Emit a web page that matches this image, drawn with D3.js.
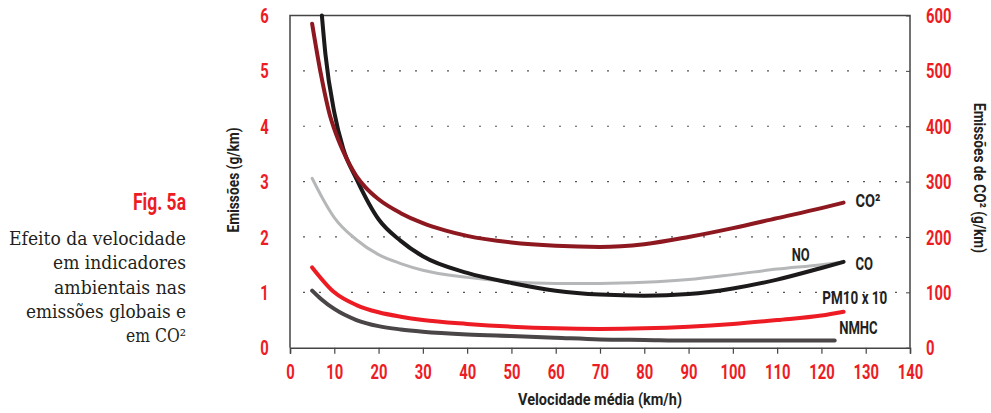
<!DOCTYPE html>
<html><head><meta charset="utf-8">
<script src="https://cdn.jsdelivr.net/npm/d3@7"></script>
<style>
body{margin:0;background:#fff;}
.cond{font-family:Roboto,"Liberation Sans",sans-serif;font-weight:700;}
</style></head><body>
<svg id="c" width="991" height="413"></svg>
<script>
const xTicks = [0,10,20,30,40,50,60,70,80,90,100,110,120,130,140];
const yTicksLeft = [0,1,2,3,4,5,6];
const yTicksRight = [0,100,200,300,400,500,600];

const co2Speed = [5,7,9,10,12,15,17,20,25,30,35,40,50,60,70,80,90,100,110,120,125];
const co2Values = [585,493,420,395,355,310,290,268,243,225,212,202,190,184,182,187,200,216,234,252,262];

const coSpeed = [7.2,8,10,12,15,20,25,30,40,50,60,70,80,90,100,110,120,125];
const coValues = [6.0,5.3,4.25,3.6,3.05,2.32,1.93,1.65,1.35,1.17,1.03,0.96,0.94,0.97,1.07,1.23,1.44,1.55];

const noSpeed = [5,7,10,15,20,25,30,40,50,60,70,80,90,100,110,120,125];
const noValues = [3.06,2.75,2.35,1.95,1.68,1.52,1.40,1.27,1.19,1.16,1.16,1.18,1.23,1.32,1.42,1.50,1.55];

const pmSpeed = [5,10,15,20,25,30,40,50,60,70,80,90,100,110,120,125];
const pmValues = [1.45,1.0,0.77,0.64,0.56,0.50,0.43,0.38,0.35,0.34,0.35,0.38,0.43,0.50,0.58,0.65];

const nmhcSpeed = [5,7,10,15,20,25,30,40,50,60,70,80,90,100,110,123];
const nmhcValues = [1.03,0.88,0.70,0.50,0.39,0.33,0.29,0.24,0.21,0.18,0.15,0.14,0.13,0.13,0.13,0.13];

const seriesLabels = ["CO²","NO","CO","PM10 x 10","NMHC"];

const svg = d3.select("#c");
const L=290, R=910, T=15.5, B=347.7;
const x = d3.scaleLinear().domain([0,140]).range([L,R]);
const y = d3.scaleLinear().domain([0,6]).range([B,T]);
const y2 = d3.scaleLinear().domain([0,600]).range([B,T]);
const red = "#ed1c24";
const ink = "#231f20";
const SX = 0.76;
const FS = "19.5px";

// gridlines
svg.append("g").selectAll("line").data(yTicksLeft.filter(d=>d>0&&d<6)).join("line")
  .attr("x1",L+13).attr("x2",R-6).attr("y1",d=>y(d)).attr("y2",d=>y(d))
  .attr("stroke","#555").attr("stroke-width",1.2).attr("stroke-dasharray","2,14");

// frame
svg.append("path").attr("d",`M${L},${B}V${T}H${R}V${B}`).attr("fill","none").attr("stroke","#444").attr("stroke-width",1.5);

// x axis
const gx = svg.append("g").attr("transform",`translate(0,${B})`)
  .call(d3.axisBottom(x).tickValues(xTicks).tickSize(6).tickFormat(d3.format("d")));
gx.select(".domain").attr("stroke","#444").attr("stroke-width",1.5);
gx.selectAll(".tick line").attr("stroke","#444").attr("stroke-width",1.2);
gx.selectAll("text").attr("class","cond").attr("fill",red).style("font-size",FS)
  .attr("x",0).attr("y",0).attr("dy",null).attr("transform",`translate(0,31.5) scale(${SX},1)`);

// left axis
const gy = svg.append("g").attr("transform",`translate(${L},0)`)
  .call(d3.axisLeft(y).tickValues(yTicksLeft).tickSize(0).tickFormat(d3.format("d")));
gy.select(".domain").remove();
gy.selectAll("text").attr("class","cond").attr("fill",red).style("font-size",FS)
  .attr("text-anchor","middle").attr("x",0).attr("dy","0.36em").attr("transform",`translate(-25.5,0) scale(${SX},1)`);

// right axis
const gy2 = svg.append("g").attr("transform",`translate(${R},0)`)
  .call(d3.axisRight(y2).tickValues(yTicksRight).tickSize(-4).tickFormat(d3.format("d")));
gy2.select(".domain").remove();
gy2.selectAll(".tick line").attr("stroke","#444");
gy2.selectAll("text").attr("class","cond").attr("fill",red).style("font-size",FS)
  .attr("text-anchor","start").attr("x",0).attr("dy","0.36em").attr("transform",`translate(16,0) scale(${SX},1)`);

// axis titles
svg.append("text").attr("class","cond").attr("transform",`translate(239,180) rotate(-90)`)
  .attr("text-anchor","middle").attr("fill",ink).style("font-size","17px")
  .attr("textLength",105).attr("lengthAdjust","spacingAndGlyphs").text("Emissões (g/km)");
svg.append("text").attr("class","cond").attr("transform",`translate(974,178) rotate(90)`)
  .attr("text-anchor","middle").attr("fill",ink).style("font-size","17px")
  .attr("textLength",150).attr("lengthAdjust","spacingAndGlyphs").text("Emissões de CO² (g/km)");
svg.append("text").attr("class","cond").attr("x",600).attr("y",405)
  .attr("text-anchor","middle").attr("fill",ink).style("font-size","17px")
  .attr("textLength",164).attr("lengthAdjust","spacingAndGlyphs").text("Velocidade média (km/h)");

// lines
const line = (ys)=>d3.line().x(d=>x(d[0])).y(d=>ys(d[1])).curve(d3.curveMonotoneX);
const series = [
  {s:noSpeed,v:noValues,c:"#b5b7b8",w:3,ys:y},
  {s:nmhcSpeed,v:nmhcValues,c:"#4a4546",w:4,ys:y},
  {s:pmSpeed,v:pmValues,c:red,w:4,ys:y},
  {s:coSpeed,v:coValues,c:"#1c1a1b",w:4,ys:y},
  {s:co2Speed,v:co2Values,c:"#8e1820",w:4,ys:y2}
];
series.forEach(S=>{
  svg.append("path").datum(S.s.map((d,i)=>[d,S.v[i]]))
    .attr("d",line(S.ys)).attr("fill","none").attr("stroke",S.c)
    .attr("stroke-width",S.w).attr("stroke-linecap","round");
});

// series labels (anchored at end of each line)
const lab = [
  {t:seriesLabels[0],x:x(127.7),y:y2(262)+4.5,w:25},
  {t:seriesLabels[1],x:x(113.3),y:y(1.55)-1,w:18},
  {t:seriesLabels[2],x:x(127.7),y:y(1.55)+8.5,w:17.5},
  {t:seriesLabels[3],x:x(120.2),y:y(0.65)-8,w:65},
  {t:seriesLabels[4],x:x(124.0),y:y(0.13)-7,w:38.5}
];
svg.append("g").selectAll("text").data(lab).join("text").attr("class","cond")
  .attr("x",d=>d.x).attr("y",d=>d.y).attr("fill",ink).style("font-size","18px")
  .attr("textLength",d=>d.w).attr("lengthAdjust","spacingAndGlyphs").text(d=>d.t);

// figure caption
svg.append("text").attr("class","cond").attr("x",186).attr("y",209.5).attr("text-anchor","end")
  .attr("fill",red).style("font-size","23px").attr("textLength",53).attr("lengthAdjust","spacingAndGlyphs").text("Fig. 5a");
const desc = ["Efeito da velocidade","em indicadores","ambientais nas","emissões globais e","em CO²"];
const descW = [177,133,132,160,60];
svg.append("g").selectAll("text").data(desc).join("text")
  .attr("x",186).attr("y",(d,i)=>245+i*24.3).attr("text-anchor","end")
  .attr("textLength",(d,i)=>descW[i]).attr("lengthAdjust","spacingAndGlyphs")
  .attr("fill",ink).style("font-family","'DejaVu Serif','Liberation Serif',serif").style("font-size","18px").text(d=>d);
</script>
</body></html>
